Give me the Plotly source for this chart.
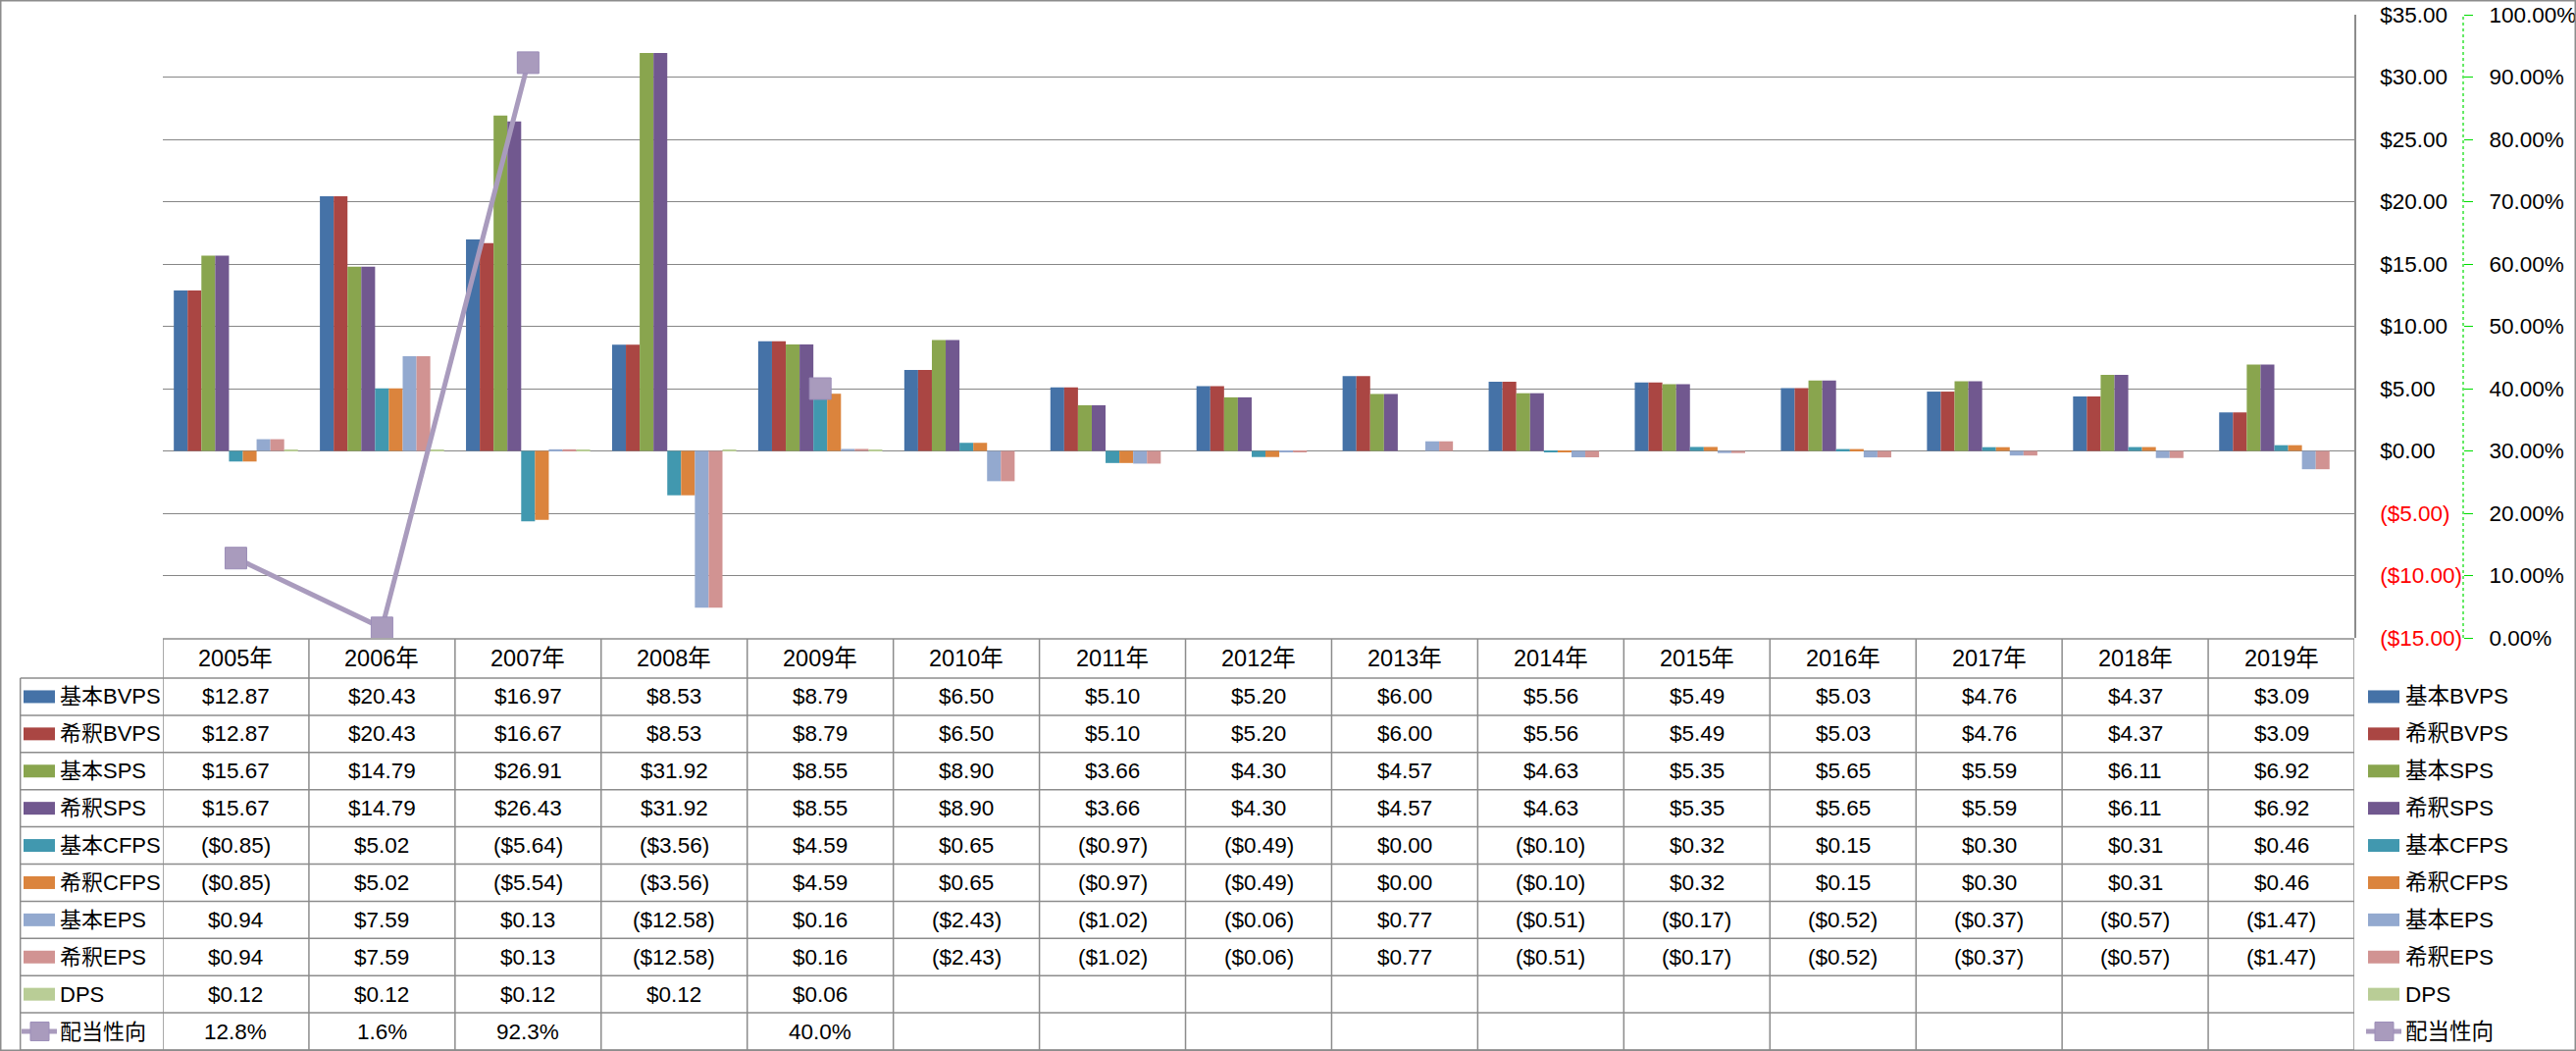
import plotly.graph_objects as go

W, H = 2626, 1071
PLOT_L, PLOT_R, PLOT_T, PLOT_B = 166, 2400, 15, 650

years = ["2005年", "2006年", "2007年", "2008年", "2009年", "2010年", "2011年", "2012年",
         "2013年", "2014年", "2015年", "2016年", "2017年", "2018年", "2019年"]

bvps_basic = [12.87, 20.43, 16.97, 8.53, 8.79, 6.50, 5.10, 5.20, 6.00, 5.56, 5.49, 5.03, 4.76, 4.37, 3.09]
bvps_dil = [12.87, 20.43, 16.67, 8.53, 8.79, 6.50, 5.10, 5.20, 6.00, 5.56, 5.49, 5.03, 4.76, 4.37, 3.09]
sps_basic = [15.67, 14.79, 26.91, 31.92, 8.55, 8.90, 3.66, 4.30, 4.57, 4.63, 5.35, 5.65, 5.59, 6.11, 6.92]
sps_dil = [15.67, 14.79, 26.43, 31.92, 8.55, 8.90, 3.66, 4.30, 4.57, 4.63, 5.35, 5.65, 5.59, 6.11, 6.92]
cfps_basic = [-0.85, 5.02, -5.64, -3.56, 4.59, 0.65, -0.97, -0.49, 0.00, -0.10, 0.32, 0.15, 0.30, 0.31, 0.46]
cfps_dil = [-0.85, 5.02, -5.54, -3.56, 4.59, 0.65, -0.97, -0.49, 0.00, -0.10, 0.32, 0.15, 0.30, 0.31, 0.46]
eps_basic = [0.94, 7.59, 0.13, -12.58, 0.16, -2.43, -1.02, -0.06, 0.77, -0.51, -0.17, -0.52, -0.37, -0.57, -1.47]
eps_dil = [0.94, 7.59, 0.13, -12.58, 0.16, -2.43, -1.02, -0.06, 0.77, -0.51, -0.17, -0.52, -0.37, -0.57, -1.47]
dps = [0.12, 0.12, 0.12, 0.12, 0.06, None, None, None, None, None, None, None, None, None, None]
payout = [0.128, 0.016, 0.923, None, 0.400, None, None, None, None, None, None, None, None, None, None]

bar_names = ["基本BVPS", "希釈BVPS", "基本SPS", "希釈SPS", "基本CFPS", "希釈CFPS", "基本EPS", "希釈EPS", "DPS"]
bar_values = [bvps_basic, bvps_dil, sps_basic, sps_dil, cfps_basic, cfps_dil, eps_basic, eps_dil, dps]
bar_colors = ["#4572A7", "#AA4643", "#89A54E", "#71588F", "#4198AF", "#DB843D", "#93A9CF", "#D19392", "#B9CD96"]
line_name = "配当性向"
line_color = "#A99BBD"

y_ticks = [-15, -10, -5, 0, 5, 10, 15, 20, 25, 30, 35]
y2_ticks = [0.0, 0.1, 0.2, 0.3, 0.4, 0.5, 0.6, 0.7, 0.8, 0.9, 1.0]

FONT = "Liberation Sans, Noto Sans CJK JP, sans-serif"
FS = 22
FS_CELL = 22.5
FS_HEAD = 23.5
GRID = "#868686"
TLINE = "#8C8C8C"


def money(v):
    if v is None:
        return ""
    return f"(${abs(v):.2f})" if v < 0 else f"${v:.2f}"


def pct(v):
    return "" if v is None else f"{v * 100:.1f}%"


def px_x(px):
    return px / W


def px_y(py):
    return (PLOT_B - py) / (PLOT_B - PLOT_T)


fig = go.Figure()
for name, vals, col in zip(bar_names, bar_values, bar_colors):
    fig.add_trace(go.Bar(x=years, y=vals, name=name, marker=dict(color=col, line=dict(width=0)),
                         showlegend=False))
fig.add_trace(go.Scatter(x=years, y=payout, name=line_name, yaxis="y2", mode="lines+markers",
                         connectgaps=False, line=dict(color=line_color, width=5),
                         marker=dict(symbol="square", size=22, color=line_color,
                                     line=dict(color="#9C8DB8", width=1)),
                         showlegend=False))

tick_text = []
for v in y_ticks:
    t = money(v)
    tick_text.append(f'<span style="color:#FF0000">{t}</span>' if v < 0 else t)

fig.update_layout(
    width=W, height=H, autosize=False,
    margin=dict(l=0, r=0, t=PLOT_T, b=H - PLOT_B),
    paper_bgcolor="white", plot_bgcolor="white",
    font=dict(family=FONT, size=FS, color="black"),
    barmode="group", bargap=0.15, bargroupgap=0,
    xaxis=dict(domain=[px_x(PLOT_L), px_x(PLOT_R)], range=[-0.5, len(years) - 0.5],
               showticklabels=False, showgrid=False, zeroline=False, showline=False, ticks=""),
    yaxis=dict(side="right", range=[-15, 35], tickvals=y_ticks, ticktext=tick_text,
               showgrid=True, gridcolor=GRID, gridwidth=1.2, zeroline=False,
               showline=True, linecolor=TLINE, linewidth=1.5, ticks="",
               ticklabelstandoff=20, tickfont=dict(size=FS_CELL), automargin=False),
    yaxis2=dict(overlaying="y", side="right", anchor="free", position=px_x(2511),
                range=[0, 1], tickvals=y2_ticks, tickformat=".2%", showgrid=False,
                zeroline=False, showline=False, ticks="outside", ticklen=9,
                tickcolor="#00DD00", tickwidth=1, ticklabelstandoff=12,
                tickfont=dict(size=FS_CELL), automargin=False),
    showlegend=False,
)

shapes = []
annos = []

# dashed secondary axis line
shapes.append(dict(type="line", xref="paper", yref="paper", x0=px_x(2511), x1=px_x(2511),
                   y0=0, y1=1, line=dict(color="#00DD00", width=1.2, dash="3px,3px")))

# outer chart border
shapes.append(dict(type="rect", xref="paper", yref="paper", x0=px_x(0.75), x1=px_x(W - 0.75),
                   y0=px_y(H - 0.75), y1=px_y(0.75), line=dict(color=TLINE, width=1.5)))

# ---- data table ----
HEAD_T, HEAD_B = 651, 691
ROW_H = (1070 - HEAD_B) / 10
TAB_L = 20.7
n = len(years)

row_names = bar_names + [line_name]
row_colors = bar_colors + [line_color]
row_texts = [[money(v) for v in vals] for vals in bar_values] + [[pct(v) for v in payout]]

# horizontal lines
shapes.append(dict(type="line", xref="x", yref="paper", x0=-0.5, x1=n - 0.5,
                   y0=px_y(HEAD_T), y1=px_y(HEAD_T), line=dict(color=TLINE, width=1.5)))
for i in range(11):
    yy = px_y(HEAD_B + i * ROW_H)
    shapes.append(dict(type="line", xref="paper", yref="paper", x0=px_x(TAB_L), x1=px_x(PLOT_R),
                       y0=yy, y1=yy, line=dict(color=TLINE, width=1.5)))
# vertical lines
shapes.append(dict(type="line", xref="paper", yref="paper", x0=px_x(TAB_L), x1=px_x(TAB_L),
                   y0=px_y(HEAD_B), y1=px_y(1070), line=dict(color=TLINE, width=1.5)))
for k in range(n + 1):
    shapes.append(dict(type="line", xref="x", yref="paper", x0=k - 0.5, x1=k - 0.5,
                       y0=px_y(HEAD_T), y1=px_y(1070), line=dict(color=TLINE, width=1.5)))

# header
for yr in years:
    annos.append(dict(x=yr, xref="x", y=px_y((HEAD_T + HEAD_B) / 2), yref="paper", text=yr,
                      showarrow=False, xanchor="center", yanchor="middle", font=dict(size=FS_HEAD)))


def add_key(x0, yc, color, is_line):
    if is_line:
        shapes.append(dict(type="line", xref="paper", yref="paper", x0=px_x(x0 - 2), x1=px_x(x0 + 34),
                           y0=px_y(yc), y1=px_y(yc), line=dict(color=color, width=5)))
        shapes.append(dict(type="rect", xref="paper", yref="paper", x0=px_x(x0 + 7), x1=px_x(x0 + 26),
                           y0=px_y(yc + 9.5), y1=px_y(yc - 9.5), fillcolor=color,
                           line=dict(color="#9C8DB8", width=1)))
    else:
        shapes.append(dict(type="rect", xref="paper", yref="paper", x0=px_x(x0), x1=px_x(x0 + 32),
                           y0=px_y(yc + 6.5), y1=px_y(yc - 6.5), fillcolor=color, line=dict(width=0)))


for i, (name, col, texts) in enumerate(zip(row_names, row_colors, row_texts)):
    yc = HEAD_B + (i + 0.5) * ROW_H
    is_line = (i == len(row_names) - 1)
    # row label in table
    add_key(24, yc, col, is_line)
    annos.append(dict(x=px_x(59), xref="paper", y=px_y(yc), yref="paper", text=name, showarrow=False,
                      xanchor="left", yanchor="middle", font=dict(size=FS)))
    for yr, t in zip(years, texts):
        if t:
            annos.append(dict(x=yr, xref="x", y=px_y(yc), yref="paper", text=t, showarrow=False,
                              xanchor="center", yanchor="middle", font=dict(size=FS_CELL)))
    # right legend
    add_key(2414, yc, col, is_line)
    annos.append(dict(x=px_x(2450), xref="paper", y=px_y(yc), yref="paper", text=name, showarrow=False,
                      xanchor="left", yanchor="middle", font=dict(size=FS_CELL)))

fig.update_layout(shapes=shapes, annotations=annos)
fig.write_html("out.html")
